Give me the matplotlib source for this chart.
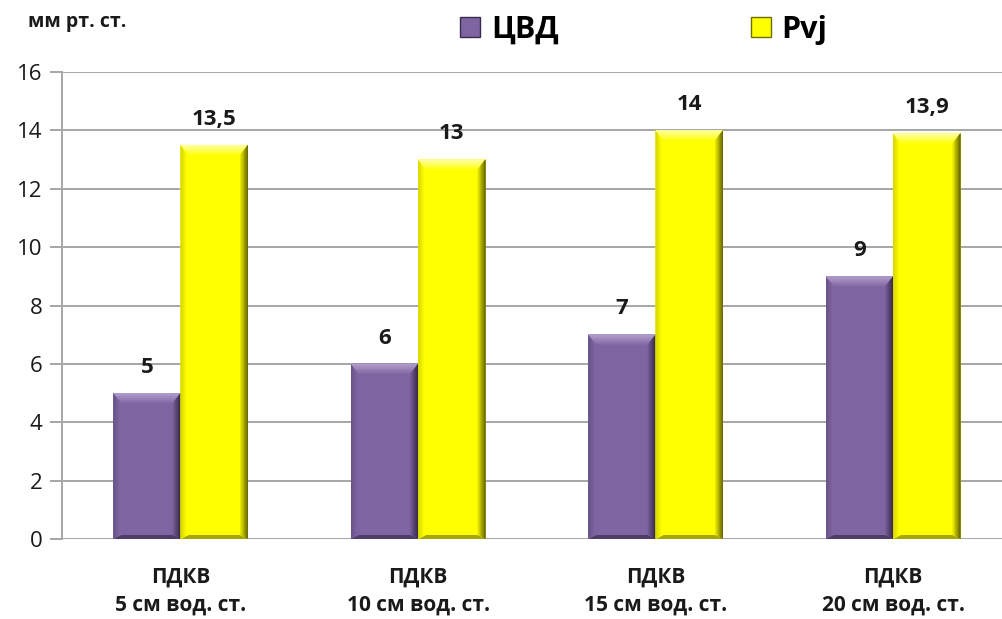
import matplotlib
matplotlib.use("Agg")
import matplotlib.pyplot as plt
from matplotlib.patches import Polygon, Patch
from matplotlib.colors import to_rgb

plt.rcParams['font.family'] = ['Open Sans', 'DejaVu Sans']

# data
categories = ["ПДКВ\n5 см вод. ст.", "ПДКВ\n10 см вод. ст.",
              "ПДКВ\n15 см вод. ст.", "ПДКВ\n20 см вод. ст."]
cvd = [5, 6, 7, 9]
pvj = [13.5, 13, 14, 13.9]
cvd_labels = ["5", "6", "7", "9"]
pvj_labels = ["13,5", "13", "14", "13,9"]
series_names = ["ЦВД", "Pvj"]

W, H = 1003, 619
fig = plt.figure(figsize=(W / 100, H / 100), dpi=100)
ax = fig.add_axes([62 / W, 80 / H, 950 / W, 467 / H])

grid_c = "#A6A6A6"
ax.set_xlim(-0.5, 3.5)
ax.set_ylim(0, 16)
ax.set_yticks(range(0, 17, 2))
ax.yaxis.grid(True, color=grid_c, lw=1.4)
ax.set_axisbelow(True)
for s in ["top", "right", "bottom"]:
    ax.spines[s].set_visible(False)
ax.spines["left"].set_color(grid_c)
ax.spines["left"].set_linewidth(1.4)
ax.tick_params(axis="y", length=9, width=1.4, color=grid_c, labelsize=16,
               labelcolor="#1a1a1a", pad=5)
ax.tick_params(axis="x", length=0, pad=20)
ax.set_xticks(range(len(categories)))
ax.set_xticklabels(categories, fontsize=15, fontweight="bold", linespacing=1.45,
                   color="#1a1a1a")

bw = 0.283
xs = list(range(len(categories)))
styles = [
    # main, top, right, left, bottom
    ("#7E64A0", "#AE9ACA", "#3A2C4E", "#6A5389", "#4E3D66"),
    ("#FFFF00", "#FFFF99", "#6E6E00", "#DADA00", "#A6A600"),
]

# bevel size in data units (~8 px horizontally, ~10 px vertically)
bx = 8 / (950 / 4)
by = 10 / (467 / 16)


def mix(c1, c2, t):
    a, b = to_rgb(c1), to_rgb(c2)
    return tuple(a[i] + (b[i] - a[i]) * t for i in range(3))


def bevel(ax, rect, cols, k=6):
    x0, w, h = rect.get_x(), rect.get_width(), rect.get_height()
    x1 = x0 + w
    main, top, right, left, bottom = cols
    # bottom and left faces
    ax.add_patch(Polygon([(x0, 0), (x1, 0), (x1 - bx, by * 0.4), (x0 + bx, by * 0.4)],
                         fc=bottom, ec="none", zorder=3))
    for i in range(k):
        f = (k - i) / k
        wx, wy = bx * f * 0.7, by * f
        ax.add_patch(Polygon([(x0, h), (x0 + wx, h - wy), (x0 + wx, by * 0.4 * f), (x0, 0)],
                             fc=mix(main, left, (i + 1) / k), ec="none", zorder=3))
    # top face: light fading to main
    for i in range(k):
        f = (k - i) / k
        wx, wy = bx * f, by * f
        ax.add_patch(Polygon([(x0, h), (x1, h), (x1 - wx, h - wy), (x0 + wx, h - wy)],
                             fc=mix(main, top, (i + 1) / k), ec="none", zorder=3))
    # right face: dark gradient
    for i in range(k):
        f = (k - i) / k
        wx, wy = bx * f, by * f
        ax.add_patch(Polygon([(x1, h), (x1, 0), (x1 - wx, by * 0.4 * f), (x1 - wx, h - wy)],
                             fc=mix(main, right, (i + 1) / k), ec="none", zorder=3))


bars1 = ax.bar([x - bw / 2 for x in xs], cvd, bw, color=styles[0][0], zorder=2)
bars2 = ax.bar([x + bw / 2 for x in xs], pvj, bw, color=styles[1][0], zorder=2)

for bars, vals, labs, st in [(bars1, cvd, cvd_labels, styles[0]),
                             (bars2, pvj, pvj_labels, styles[1])]:
    for r, v, lab in zip(bars, vals, labs):
        bevel(ax, r, st)
        ax.annotate(lab, (r.get_x() + r.get_width() / 2, v), xytext=(0, 11),
                    textcoords="offset points", ha="center", va="bottom",
                    fontsize=16, fontweight="bold", color="#1a1a1a")

fig.text(28 / W, 1 - 22 / H, "мм рт. ст.", fontsize=14, fontweight="bold",
         ha="left", va="center", color="#1a1a1a")

handles = [Patch(fc=styles[0][0], ec=styles[0][2], lw=1),
           Patch(fc=styles[1][0], ec=styles[1][2], lw=1)]
fig.legend(handles, series_names, loc="center", bbox_to_anchor=(0.642, 1 - 30 / H),
           ncol=2, frameon=False, prop={"size": 22, "weight": "bold"},
           handlelength=0.65, handleheight=0.65, handletextpad=0.35,
           columnspacing=6.3)

fig.savefig("out.png", dpi=100)
